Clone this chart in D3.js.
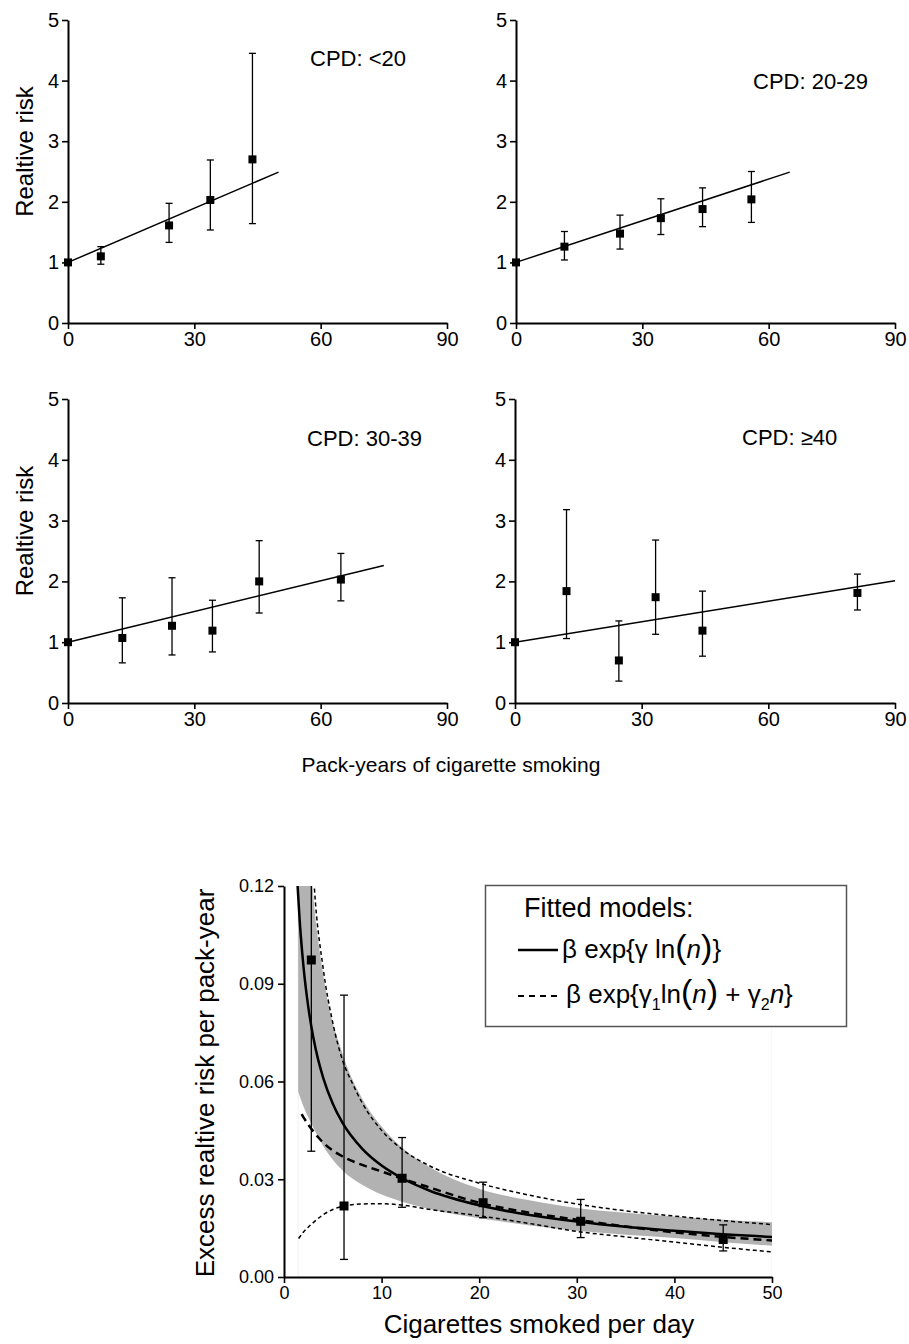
<!DOCTYPE html>
<html>
<head>
<meta charset="utf-8">
<script src="https://cdn.jsdelivr.net/npm/d3@7"></script>
<style>
  body { margin: 0; background: #fff; }
  svg { display: block; font-family: 'Liberation Sans', Arial, Helvetica, sans-serif; }
</style>
</head>
<body>
<svg id="chart" width="909" height="1344"></svg>
<script>
// ---- top panels: relative risk by pack-years, one panel per CPD group ----
const panelLabels = ["CPD: <20", "CPD: 20-29", "CPD: 30-39", "CPD: \u226540"];
const packYears = [
  [0, 7.8, 24.0, 33.8, 43.8],
  [0, 11.5, 24.7, 34.4, 44.3, 55.9],
  [0, 12.9, 24.7, 34.3, 45.4, 64.8],
  [0, 12.2, 24.6, 33.3, 44.4, 81.1]
];
const relRisk = [
  [1, 1.10, 1.61, 2.03, 2.70],
  [1, 1.26, 1.475, 1.73, 1.88, 2.04],
  [1, 1.07, 1.27, 1.19, 2.00, 2.03],
  [1, 1.84, 0.70, 1.74, 1.19, 1.81]
];
const rrLower = [
  [null, 0.97, 1.33, 1.535, 1.64],
  [null, 1.04, 1.22, 1.46, 1.59, 1.66],
  [null, 0.66, 0.79, 0.84, 1.48, 1.68],
  [null, 1.06, 0.36, 1.13, 0.77, 1.53]
];
const rrUpper = [
  [null, 1.26, 1.975, 2.69, 4.45],
  [null, 1.51, 1.78, 2.05, 2.23, 2.50],
  [null, 1.73, 2.06, 1.69, 2.67, 2.46],
  [null, 3.18, 1.35, 2.68, 1.84, 2.12]
];
const fitPackYears = [[0, 50], [0, 65], [0, 75], [0, 90]];
const fitRR = [[1, 2.49], [1, 2.49], [1, 2.26], [1, 2.01]];
const pyTicks = [0, 30, 60, 90];
const rrTicks = [0, 1, 2, 3, 4, 5];

// ---- bottom panel: excess RR per pack-year by cigarettes per day ----
const cpd = [2.8, 6.15, 12.1, 20.4, 30.4, 45.0];
const excess = [0.0973, 0.0218, 0.0303, 0.0228, 0.0171, 0.0115];
const excessLow = [0.0386, 0.0054, 0.0214, 0.0182, 0.0121, 0.0080];
const excessHigh = [0.16, 0.0865, 0.0428, 0.0291, 0.0238, 0.0160];

const powerN = [1.35, 1.6, 2, 2.5, 3, 3.5, 4, 5, 6, 8, 10, 12.1, 15, 20, 25, 30, 35, 40, 45, 50];
const powerFit = [0.1222, 0.1097, 0.0952, 0.0826, 0.0736, 0.0667, 0.0613, 0.0532, 0.0473, 0.0394, 0.0342, 0.0303, 0.0264, 0.0220, 0.0191, 0.0170, 0.0154, 0.0142, 0.0131, 0.0123];

const bandN = [1.45, 2, 2.8, 4, 6, 8, 10, 12.1, 15, 20, 25, 30, 35, 40, 45, 50];
const bandLow = [0.0569, 0.0523, 0.0471, 0.0403, 0.0327, 0.0283, 0.0253, 0.0231, 0.0208, 0.0180, 0.0159, 0.0142, 0.0130, 0.0120, 0.0107, 0.0096];
const bandHigh = [0.24, 0.173, 0.1255, 0.0933, 0.0685, 0.0548, 0.0462, 0.0397, 0.0336, 0.0271, 0.0236, 0.0212, 0.0197, 0.0186, 0.0176, 0.0168];

const quadN = [1.8, 2, 2.5, 3, 4, 5, 6, 8, 10, 12, 15, 20, 25, 30, 35, 40, 45, 50];
const quadFit = [0.0500, 0.0490, 0.0467, 0.0447, 0.0413, 0.0388, 0.0370, 0.0344, 0.0324, 0.0303, 0.0274, 0.0228, 0.0198, 0.0176, 0.0155, 0.0137, 0.0123, 0.0112];

const quadHighN = [2.9, 3.1, 4, 5, 6, 7, 8, 10, 12.1, 15, 20, 25, 30, 35, 40, 45, 50];
const quadHigh = [0.130, 0.120, 0.095, 0.078, 0.0665, 0.0595, 0.0535, 0.0450, 0.0392, 0.0340, 0.0288, 0.0252, 0.0224, 0.0203, 0.0187, 0.0173, 0.0161];

const quadLowN = [1.5, 2, 3, 4, 5, 6, 8, 10, 12, 15, 20, 25, 30, 35, 40, 45, 50];
const quadLow = [0.0118, 0.0138, 0.0167, 0.0191, 0.0207, 0.0217, 0.0224, 0.0225, 0.0221, 0.0207, 0.0188, 0.0165, 0.0140, 0.0123, 0.0107, 0.0091, 0.0077];

const cpdTicks = [0, 10, 20, 30, 40, 50];
const excessTicks = [0, 0.03, 0.06, 0.09, 0.12];

// ---- layout ----
const svg = d3.select('#chart');
const panelBoxes = [
  {left: 68, right: 447, top: 20, bottom: 323, label: [310, 66]},
  {left: 516, right: 895, top: 20, bottom: 323, label: [753, 89]},
  {left: 68, right: 447, top: 399, bottom: 703, label: [307, 446]},
  {left: 515, right: 895, top: 399, bottom: 703, label: [742, 445]}
];

function styleAxis(g, fontSize) {
  g.select('.domain').attr('stroke', '#000').attr('stroke-width', 2);
  g.selectAll('.tick line').attr('stroke', '#000').attr('stroke-width', 1.6);
  g.selectAll('.tick text').attr('fill', '#000').attr('font-size', fontSize)
    .attr('font-family', "'Liberation Sans', Arial, sans-serif");
}

panelBoxes.forEach((box, i) => {
  const x = d3.scaleLinear().domain([0, 90]).range([box.left, box.right]);
  const y = d3.scaleLinear().domain([0, 5]).range([box.bottom, box.top]);
  const g = svg.append('g');

  g.append('g')
    .attr('transform', `translate(0,${box.bottom})`)
    .call(d3.axisBottom(x).tickValues(pyTicks).tickFormat(d3.format('d')).tickSize(6).tickSizeOuter(0).tickPadding(3))
    .call(a => styleAxis(a, 20));
  g.append('g')
    .attr('transform', `translate(${box.left},0)`)
    .call(d3.axisLeft(y).tickValues(rrTicks).tickFormat(d3.format('d')).tickSize(6).tickSizeOuter(0).tickPadding(3))
    .call(a => styleAxis(a, 20));

  // fitted line
  g.append('line')
    .attr('x1', x(fitPackYears[i][0])).attr('y1', y(fitRR[i][0]))
    .attr('x2', x(fitPackYears[i][1])).attr('y2', y(fitRR[i][1]))
    .attr('stroke', '#000').attr('stroke-width', 1.5);

  const pts = packYears[i].map((p, j) => ({p, rr: relRisk[i][j], lo: rrLower[i][j], hi: rrUpper[i][j]}));
  const bars = pts.filter(d => d.lo !== null);
  g.selectAll('.eb').data(bars).enter().append('line')
    .attr('x1', d => x(d.p)).attr('x2', d => x(d.p))
    .attr('y1', d => y(d.lo)).attr('y2', d => y(d.hi))
    .attr('stroke', '#000').attr('stroke-width', 1.3);
  ['lo', 'hi'].forEach(k => {
    g.selectAll('.cap' + k).data(bars).enter().append('line')
      .attr('x1', d => x(d.p) - 3.5).attr('x2', d => x(d.p) + 3.5)
      .attr('y1', d => y(d[k])).attr('y2', d => y(d[k]))
      .attr('stroke', '#000').attr('stroke-width', 1.3);
  });
  g.selectAll('.pt').data(pts).enter().append('rect')
    .attr('x', d => x(d.p) - 4).attr('y', d => y(d.rr) - 4)
    .attr('width', 8).attr('height', 8).attr('fill', '#000');

  g.append('text').attr('x', box.label[0]).attr('y', box.label[1])
    .attr('font-size', 22).attr('fill', '#000').text(panelLabels[i]);

  if (i % 2 === 0) {
    const cy = (box.top + box.bottom) / 2 - 20;
    g.append('text')
      .attr('transform', `translate(33,${cy}) rotate(-90)`)
      .attr('text-anchor', 'middle').attr('font-size', 24).attr('fill', '#000')
      .text('Realtive risk');
  }
});

svg.append('text').attr('x', 451).attr('y', 772).attr('text-anchor', 'middle')
  .attr('font-size', 21).attr('fill', '#000').text('Pack-years of cigarette smoking');

// ---- bottom chart ----
const bx = d3.scaleLinear().domain([0, 50]).range([284, 772]);
const by = d3.scaleLinear().domain([0, 0.12]).range([1277, 886]);

svg.append('defs').append('clipPath').attr('id', 'plotClip')
  .append('rect').attr('x', bx(0)).attr('y', by(0.12))
  .attr('width', bx(50) - bx(0)).attr('height', by(0) - by(0.12));

const plot = svg.append('g').attr('clip-path', 'url(#plotClip)');

// faint edges of the shaded region
[bandN[0], bandN[bandN.length - 1]].forEach(n => {
  plot.append('line').attr('x1', bx(n)).attr('x2', bx(n))
    .attr('y1', by(0)).attr('y2', by(0.12))
    .attr('stroke', '#f0f0f0').attr('stroke-width', 1);
});

const band = bandN.map((n, j) => ({n, lo: bandLow[j], hi: bandHigh[j]}));
plot.append('path').datum(band)
  .attr('fill', '#b2b2b2')
  .attr('d', d3.area().x(d => bx(d.n)).y0(d => by(d.lo)).y1(d => by(d.hi)).curve(d3.curveMonotoneX));

const line = d3.line().x(d => bx(d[0])).y(d => by(d[1])).curve(d3.curveMonotoneX);
const zip = (a, b) => a.map((v, j) => [v, b[j]]);

plot.append('path').datum(zip(quadHighN, quadHigh)).attr('d', line)
  .attr('fill', 'none').attr('stroke', '#000').attr('stroke-width', 1.5).attr('stroke-dasharray', '4,3');
plot.append('path').datum(zip(quadLowN, quadLow)).attr('d', line)
  .attr('fill', 'none').attr('stroke', '#000').attr('stroke-width', 1.5).attr('stroke-dasharray', '4,3');
plot.append('path').datum(zip(powerN, powerFit)).attr('d', line)
  .attr('fill', 'none').attr('stroke', '#000').attr('stroke-width', 2.5);
plot.append('path').datum(zip(quadN, quadFit)).attr('d', line)
  .attr('fill', 'none').attr('stroke', '#000').attr('stroke-width', 2.5).attr('stroke-dasharray', '8,5');

const obs = cpd.map((n, j) => ({n, v: excess[j], lo: excessLow[j], hi: excessHigh[j]}));
plot.selectAll('.beb').data(obs).enter().append('line')
  .attr('x1', d => bx(d.n)).attr('x2', d => bx(d.n))
  .attr('y1', d => by(d.lo)).attr('y2', d => by(d.hi))
  .attr('stroke', '#000').attr('stroke-width', 1.3);
['lo', 'hi'].forEach(k => {
  plot.selectAll('.bcap' + k).data(obs).enter().append('line')
    .attr('x1', d => bx(d.n) - 4).attr('x2', d => bx(d.n) + 4)
    .attr('y1', d => by(d[k])).attr('y2', d => by(d[k]))
    .attr('stroke', '#000').attr('stroke-width', 1.3);
});
plot.selectAll('.bpt').data(obs).enter().append('rect')
  .attr('x', d => bx(d.n) - 4.5).attr('y', d => by(d.v) - 4.5)
  .attr('width', 9).attr('height', 9).attr('fill', '#000');

svg.append('g').attr('transform', `translate(0,${by(0)})`)
  .call(d3.axisBottom(bx).tickValues(cpdTicks).tickSize(6).tickSizeOuter(0).tickPadding(3))
  .call(a => styleAxis(a, 18));
svg.append('g').attr('transform', `translate(${bx(0)},0)`)
  .call(d3.axisLeft(by).tickValues(excessTicks).tickFormat(d3.format('.2f')).tickSize(6).tickSizeOuter(0).tickPadding(4))
  .call(a => styleAxis(a, 18));

svg.append('text').attr('x', 539).attr('y', 1333).attr('text-anchor', 'middle')
  .attr('font-size', 26).attr('fill', '#000').text('Cigarettes smoked per day');
svg.append('text').attr('transform', 'translate(214,1083) rotate(-90)')
  .attr('text-anchor', 'middle').attr('font-size', 26).attr('fill', '#000')
  .text('Excess realtive risk per pack-year');

// ---- legend ----
const lg = svg.append('g');
lg.append('rect').attr('x', 485.5).attr('y', 885.5).attr('width', 361).attr('height', 141)
  .attr('fill', '#fff').attr('stroke', '#555').attr('stroke-width', 1.5);
lg.append('text').attr('x', 524).attr('y', 917).attr('font-size', 27).attr('fill', '#000').text('Fitted models:');
lg.append('line').attr('x1', 518).attr('x2', 558).attr('y1', 950).attr('y2', 950)
  .attr('stroke', '#000').attr('stroke-width', 2.5);
lg.append('line').attr('x1', 518).attr('x2', 560).attr('y1', 996).attr('y2', 996)
  .attr('stroke', '#000').attr('stroke-width', 2).attr('stroke-dasharray', '6,5');

const t1 = lg.append('text').attr('x', 562).attr('y', 958).attr('font-size', 26).attr('fill', '#000');
t1.append('tspan').text('\u03b2 exp{\u03b3 ln');
t1.append('tspan').attr('font-size', 34).text('(');
t1.append('tspan').attr('font-style', 'italic').text('n');
t1.append('tspan').attr('font-size', 34).text(')');
t1.append('tspan').text('}');

const t2 = lg.append('text').attr('x', 566).attr('y', 1003).attr('font-size', 26).attr('fill', '#000');
t2.append('tspan').text('\u03b2 exp{\u03b3');
t2.append('tspan').attr('font-size', 16).attr('dy', 7).text('1');
t2.append('tspan').attr('dy', -7).text('ln');
t2.append('tspan').attr('font-size', 34).text('(');
t2.append('tspan').attr('font-style', 'italic').text('n');
t2.append('tspan').attr('font-size', 34).text(')');
t2.append('tspan').text(' + \u03b3');
t2.append('tspan').attr('font-size', 16).attr('dy', 7).text('2');
t2.append('tspan').attr('dy', -7).attr('font-style', 'italic').text('n');
t2.append('tspan').text('}');
</script>
</body>
</html>
